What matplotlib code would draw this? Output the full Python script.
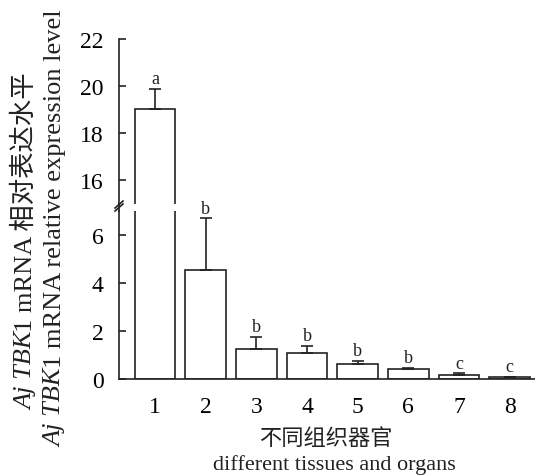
import matplotlib

matplotlib.use("Agg")
import matplotlib.pyplot as plt
from matplotlib.lines import Line2D

# ---- data ----
tissues = [1, 2, 3, 4, 5, 6, 7, 8]
expression = [19.05, 4.55, 1.25, 1.08, 0.62, 0.42, 0.15, 0.07]
err_up = [0.85, 2.15, 0.50, 0.30, 0.13, 0.04, 0.08, 0.03]
letters = ["a", "b", "b", "b", "b", "b", "c", "c"]
low_ticks = [0, 2, 4, 6]
high_ticks = [16, 18, 20, 22]

SERIF = ["Liberation Serif", "Noto Sans CJK SC"]
INK = "#222222"
plt.rcParams["font.family"] = SERIF

W, H = 535, 477
fig = plt.figure(figsize=(W / 100, H / 100), dpi=100)


def fx(px):
    return px / W


def fy(py):
    return (H - py) / H


ax_hi = fig.add_axes([fx(119), fy(205), fx(535 - 119), (205 - 40) / H])
ax_lo = fig.add_axes([fx(119), fy(380), fx(535 - 119), (380 - 212) / H])

for ax, (lo, hi), ticks in [(ax_hi, (15, 22), high_ticks), (ax_lo, (0, 7), low_ticks)]:
    ax.bar(tissues, expression, width=0.8, facecolor="white", edgecolor=INK, lw=1.2)
    ax.errorbar(tissues, expression, yerr=[[0] * len(err_up), err_up], fmt="none",
                ecolor=INK, elinewidth=1.2, capsize=4, capthick=1.2)
    ax.set_ylim(lo, hi)
    ax.set_xlim(0.29, 8.5)
    ax.set_yticks(ticks)
    ax.tick_params(axis="y", direction="in", length=5, width=1.2, color=INK,
                   labelsize=17, pad=11)
    for s in ["top", "right"]:
        ax.spines[s].set_visible(False)
    ax.spines["left"].set_linewidth(1.2)
    ax.spines["left"].set_color(INK)
    ax.patch.set_visible(False)

ax_hi.spines["bottom"].set_visible(False)
ax_hi.set_xticks([])
ax_lo.spines["bottom"].set_linewidth(1.2)
ax_lo.spines["bottom"].set_color(INK)
ax_lo.set_xticks(tissues)
ax_lo.tick_params(axis="x", length=0, labelsize=17, pad=12)

# significance letters
for x, y, e, s in zip(tissues, expression, err_up, letters):
    ax = ax_hi if y + e > 7.5 else ax_lo
    ax.annotate(s, (x, y + e), xytext=(0, 4), textcoords="offset points",
                ha="center", va="baseline", fontsize=13, color=INK,
                annotation_clip=False)

# axis break: join the two spines and mark the break
fig.add_artist(Line2D([fx(119), fx(119)], [fy(205), fy(212)], color=INK, lw=1.2))
for dy in (0, 3):
    fig.add_artist(Line2D([fx(115), fx(123)], [fy(212 - dy), fy(205 - dy)],
                          color=INK, lw=1.2))

# x labels
fig.text(fx(326), fy(440), "不同组织器官", ha="center", va="center",
         fontsize=16, color=INK)
fig.text(fx(334), fy(465), "different tissues and organs", ha="center",
         va="center", fontsize=16, color=INK)


# y labels: italic gene name followed by upright text, both rotated
def rotated_label(x_px, y_px, rest):
    t1 = fig.text(fx(x_px), fy(y_px), "Aj TBK", rotation=90, rotation_mode="anchor",
                  ha="left", va="baseline", fontsize=19, style="italic", color=INK)
    fig.canvas.draw()
    bb = t1.get_window_extent(fig.canvas.get_renderer())
    fig.text(fx(x_px), bb.y1 / H, rest, rotation=90, rotation_mode="anchor",
             ha="left", va="baseline", fontsize=19, color=INK)


rotated_label(32, 410, "1 mRNA 相对表达水平")
rotated_label(61, 447, "1 mRNA relative expression level")

fig.savefig("out.png", dpi=100)
